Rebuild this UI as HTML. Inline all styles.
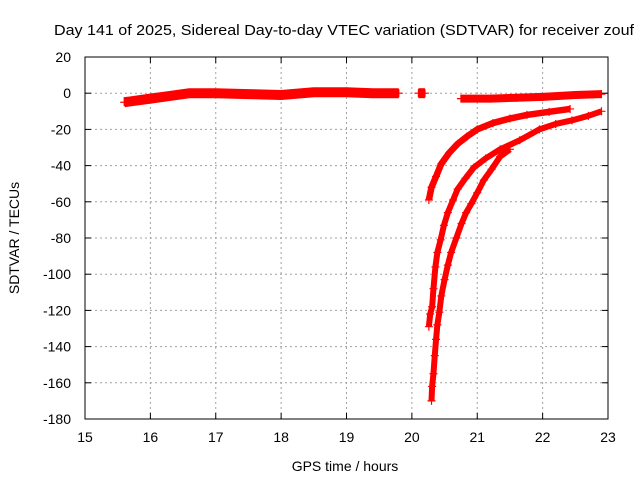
<!DOCTYPE html>
<html><head><meta charset="utf-8"><style>
body{margin:0;background:#fff}
svg{display:block;font-family:"Liberation Sans",sans-serif}
</style></head><body>
<svg id="chart" width="640" height="480">
<text x="54" y="35" font-size="15" textLength="580" lengthAdjust="spacingAndGlyphs">Day 141 of 2025, Sidereal Day-to-day VTEC variation (SDTVAR) for receiver zouf</text>
<g id="grid"></g>
<g id="ticks" font-size="14"></g>
<g id="series"></g>
<rect x="85" y="57" width="523" height="362" fill="none" stroke="#000" stroke-width="1"/>
<text x="345" y="471" font-size="14" text-anchor="middle">GPS time / hours</text>
<text transform="translate(19,238) rotate(-90)" font-size="14" text-anchor="middle">SDTVAR / TECUs</text>
</svg>
<script>
const xTicks=[15,16,17,18,19,20,21,22,23];
const yTicks=[20,0,-20,-40,-60,-80,-100,-120,-140,-160,-180];
const bandA=[[15.6,-5],[15.8,-4],[16.0,-3],[16.3,-1.5],[16.6,0],[17.0,0],[17.5,-0.5],[18.0,-1],[18.5,0.5],[19.0,0.5],[19.4,0],[19.8,0]];
const bandB=[[20.1,0],[20.2,0]];
const bandC=[[20.75,-3],[21.2,-3],[21.6,-2.5],[22.0,-2],[22.5,-1],[22.9,-0.5]];
const curveA=[[20.26,-59],[20.3,-52],[20.37,-46],[20.45,-39],[20.57,-33],[20.7,-28],[20.84,-24],[21.0,-20],[21.24,-16.5],[21.5,-14],[21.76,-12],[22.1,-10.3],[22.42,-8.7]];
const curveB=[[20.26,-129],[20.28,-122],[20.31,-118],[20.33,-108],[20.36,-96],[20.39,-88],[20.44,-81],[20.49,-73],[20.55,-66],[20.63,-59],[20.7,-53],[20.82,-47],[20.95,-41],[21.13,-36],[21.35,-31],[21.65,-26],[21.95,-20],[22.2,-17],[22.45,-15],[22.7,-12.5],[22.9,-10]];
const curveC=[[20.3,-170],[20.31,-162],[20.33,-155],[20.35,-145],[20.37,-136],[20.39,-128],[20.42,-121],[20.45,-112],[20.5,-103],[20.55,-95],[20.6,-88],[20.68,-80],[20.76,-72],[20.83,-66],[20.91,-61],[21.0,-55],[21.1,-48],[21.22,-42],[21.35,-35],[21.5,-31]];
const X=h=>85+(h-15)*523/8, Y=v=>57+(20-v)*362/200;
const ns="http://www.w3.org/2000/svg";
function mk(tag,attrs,parent){const e=document.createElementNS(ns,tag);for(const k in attrs)e.setAttribute(k,attrs[k]);parent.appendChild(e);return e;}
const grid=document.getElementById('grid'),ticks=document.getElementById('ticks'),ser=document.getElementById('series');
xTicks.forEach(t=>{
 if(t>15&&t<23){const g=mk('line',{x1:X(t),x2:X(t),y1:57,y2:419,stroke:'#a0a0a0','stroke-dasharray':'2,3'},grid);
 
 }
 mk('line',{x1:X(t),x2:X(t),y1:419,y2:413,stroke:'#000'},ticks);mk('line',{x1:X(t),x2:X(t),y1:57,y2:63,stroke:'#000'},ticks);
 const l=mk('text',{x:X(t),y:442,'text-anchor':'middle'},ticks);l.textContent=t;
 
 
});
yTicks.forEach(t=>{
 if(t<20&&t>-180){const g=mk('line',{x1:85,x2:608,y1:Y(t),y2:Y(t),stroke:'#a0a0a0','stroke-dasharray':'2,3'},grid);
 
 }
 mk('line',{x1:85,x2:91,y1:Y(t),y2:Y(t),stroke:'#000'},ticks);mk('line',{x1:608,x2:602,y1:Y(t),y2:Y(t),stroke:'#000'},ticks);
 const l=mk('text',{x:71,y:Y(t)+5,'text-anchor':'end'},ticks);l.textContent=t;
 
 
});
function band(d,w,name){const p=mk('polyline',{points:d.map(p=>X(p[0])+','+Y(p[1])).join(' '),fill:'none',stroke:'#f00','stroke-width':w,'stroke-linejoin':'round'},ser);
 
 
 d.forEach(pt=>plus(pt,name+'-point'));}
function plus(pt,name){const x=X(pt[0]),y=Y(pt[1]);const p=mk('path',{d:`M${x-4},${y}h8M${x},${y-4}v8`,stroke:'#f00','stroke-width':1.2},ser);
 
 }
band(bandA,10,'band-early');
band(bandB,10,'band-mid');
band(bandC,8,'band-late');
band(curveA,6.5,'curve-a');
band(curveB,6,'curve-b');
band(curveC,6,'curve-c');
</script>
</body></html>
